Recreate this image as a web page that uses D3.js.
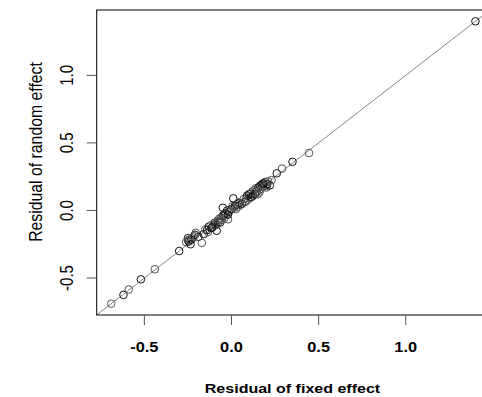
<!DOCTYPE html>
<html>
<head>
<meta charset="utf-8">
<script src="https://cdn.jsdelivr.net/npm/d3@7"></script>
<style>
  body { margin: 0; background: #fff; }
  text { font-family: "Liberation Sans", Arial, sans-serif; fill: #000; }
</style>
</head>
<body>
<svg id="chart" width="482" height="397"></svg>
<script>
// residuals
const fixedRes = [
  -0.69, -0.62, -0.59, -0.52, -0.44, -0.30,
  -0.26, -0.25, -0.25, -0.245, -0.24, -0.23, -0.22, -0.21, -0.205, -0.19, -0.17, -0.16,
  -0.15, -0.14, -0.135, -0.13, -0.12, -0.115, -0.10, -0.095, -0.09, -0.085, -0.08, -0.075,
  -0.07, -0.065, -0.06, -0.05, -0.05, -0.045, -0.04, -0.035, -0.03, -0.025, -0.02, -0.015,
  -0.01, 0.00, 0.005, 0.01, 0.015, 0.02, 0.025, 0.03, 0.035, 0.045, 0.05, 0.06, 0.07, 0.08,
  0.085, 0.09, 0.095, 0.10, 0.105, 0.11, 0.12, 0.125, 0.13, 0.135, 0.14, 0.145, 0.15, 0.155,
  0.16, 0.165, 0.17, 0.175, 0.18, 0.185, 0.19, 0.195, 0.20, 0.205, 0.21, 0.22, 0.23,
  -0.235, -0.215, -0.11, -0.055, -0.02, 0.04, 0.115, 0.16, 0.18, 0.2,
  0.26, 0.29, 0.35, 0.445, 1.40
]
const randomRes = [
  -0.69, -0.625, -0.585, -0.51, -0.435, -0.30,
  -0.235, -0.205, -0.22, -0.23, -0.215, -0.215, -0.20, -0.18, -0.165, -0.195, -0.24, -0.175,
  -0.14, -0.145, -0.16, -0.12, -0.11, -0.13, -0.105, -0.09, -0.11, -0.15, -0.075, -0.085,
  -0.06, -0.09, -0.055, 0.02, -0.04, -0.035, -0.055, -0.02, -0.03, 0.00, -0.065, -0.01,
  0.005, 0.01, 0.03, 0.09, 0.02, 0.035, 0.01, 0.045, 0.025, 0.055, 0.04, 0.05, 0.085, 0.065,
  0.09, 0.11, 0.08, 0.12, 0.095, 0.125, 0.14, 0.11, 0.15, 0.12, 0.165, 0.14, 0.12, 0.17,
  0.155, 0.185, 0.16, 0.19, 0.175, 0.2, 0.185, 0.21, 0.17, 0.195, 0.215, 0.185, 0.225,
  -0.25, -0.19, -0.125, -0.07, -0.03, 0.06, 0.1, 0.135, 0.2, 0.18,
  0.275, 0.31, 0.36, 0.425, 1.40
]
const xTicks = [-0.5, 0.0, 0.5, 1.0]
const yTicks = [-0.5, 0.0, 0.5, 1.0]
const xTitle = 'Residual of fixed effect'
const yTitle = 'Residual of random effect'

const plot = { left: 96.7, right: 490, top: 10, bottom: 315 }
const stretch = 1.17 // the picture is a bit wider than tall

// R style: 4% padding on each side
function padded(vals) {
  const [lo, hi] = d3.extent(vals)
  const p = (hi - lo) * 0.04
  return [lo - p, hi + p]
}

const x = d3.scaleLinear().domain(padded(fixedRes)).range([plot.left, plot.right])
const y = d3.scaleLinear().domain(padded(randomRes)).range([plot.bottom, plot.top])

const svg = d3.select('#chart')

// y = x reference line, corner to corner
const [d0, d1] = x.domain()
svg.append('line')
   .attr('x1', x(d0)).attr('y1', y(d0))
   .attr('x2', x(d1)).attr('y2', y(d1))
   .attr('stroke', '#777')
   .attr('stroke-width', 0.9)

// points
const pts = fixedRes.map((v, i) => ({ fx: v, ry: randomRes[i] }))
svg.append('g')
   .selectAll('circle')
   .data(pts)
   .join('circle')
   .attr('cx', d => x(d.fx))
   .attr('cy', d => y(d.ry))
   .attr('r', 3.8)
   .attr('fill', 'none')
   .attr('stroke', (d, i) => i % 2 ? '#111' : '#555')
   .attr('stroke-width', 1)

// box
svg.append('rect')
   .attr('x', plot.left).attr('y', plot.top)
   .attr('width', plot.right - plot.left).attr('height', plot.bottom - plot.top)
   .attr('fill', 'none')
   .attr('stroke', '#000')
   .attr('stroke-width', 1)

// x axis ticks + labels
let xg = svg.append('g')
xg.selectAll('line')
  .data(xTicks)
  .join('line')
  .attr('x1', d => x(d)).attr('x2', d => x(d))
  .attr('y1', plot.bottom).attr('y2', plot.bottom + 10)
  .attr('stroke', '#555')
xg.selectAll('text')
  .data(xTicks)
  .join('text')
  .attr('transform', d => `translate(${x(d)},351.5) scale(${stretch},1)`)
  .attr('text-anchor', 'middle')
  .attr('font-size', 14)
  .attr('font-weight', 'bold')
  .text(d => d.toFixed(1))

// y axis ticks + labels
let yg = svg.append('g')
yg.selectAll('line')
  .data(yTicks)
  .join('line')
  .attr('x1', plot.left - 10).attr('x2', plot.left)
  .attr('y1', d => y(d)).attr('y2', d => y(d))
  .attr('stroke', '#555')
yg.selectAll('text')
  .data(yTicks)
  .join('text')
  .attr('transform', d => `translate(73,${y(d)}) scale(${stretch},1) rotate(-90)`)
  .attr('text-anchor', 'middle')
  .attr('font-size', 15)
  .text(d => d.toFixed(1))

// titles
svg.append('text')
   .attr('transform', `translate(292.5,393) scale(${stretch},1)`)
   .attr('text-anchor', 'middle')
   .attr('font-size', 13.7)
   .attr('font-weight', 'bold')
   .text(xTitle)
svg.append('text')
   .attr('transform', `translate(41.5,152) scale(${stretch},1) rotate(-90)`)
   .attr('text-anchor', 'middle')
   .attr('font-size', 15.8)
   .text(yTitle)
</script>
</body>
</html>
